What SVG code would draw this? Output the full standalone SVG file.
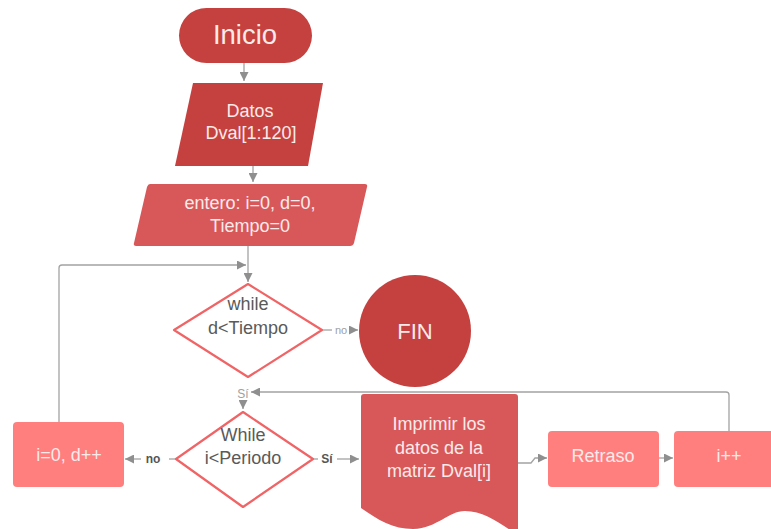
<svg xmlns="http://www.w3.org/2000/svg" width="771" height="529" viewBox="0 0 771 529">
  <style>
    .dark { fill: #c4413f; }
    .mid { fill: #d8585a; }
    .light { fill: #ff7f7f; }
    .dec { fill: #ffffff; stroke: #f06466; stroke-width: 2.2; stroke-linejoin: round; }
    .lbl { font-family: "Liberation Sans", Arial, sans-serif; fill: #fbeaea; text-anchor: middle; font-size: 18px; }
    .dtxt { font-family: "Liberation Sans", Arial, sans-serif; fill: #5a5a5a; text-anchor: middle; font-size: 18px; }
    .conn { fill: none; stroke: #a3a3a3; stroke-width: 1.3; }
    .clbl { font-family: "Liberation Sans", Arial, sans-serif; text-anchor: middle; }
  </style>
  <defs>
    <marker id="arr" viewBox="0 0 10 10" refX="10" refY="5" markerWidth="9" markerHeight="9" markerUnits="userSpaceOnUse" orient="auto">
      <path d="M0,0 L10,5 L0,10 z" fill="#8f8f8f"/>
    </marker>
  </defs>
  <rect width="771" height="529" fill="#ffffff"/>

  <!-- connectors -->
  <g id="connectors">
    <path class="conn" d="M244,63 V81" marker-end="url(#arr)"/>
    <path class="conn" d="M253,166 V182" marker-end="url(#arr)"/>
    <path class="conn" d="M248,246 V282" marker-end="url(#arr)"/>
    <path class="conn" d="M59,422 V268 Q59,265 62,265 H246" marker-end="url(#arr)"/>
    <path class="conn" d="M322,330 H332"/>
    <text class="clbl" x="341" y="334" font-size="11" fill="#a0a0a0">no</text>
    <path class="conn" d="M350,330 H358" marker-end="url(#arr)"/>
    <text class="clbl" x="243" y="398" font-size="12" fill="#a0a0a0">Sí</text>
    <path class="conn" d="M243,400 V409" marker-end="url(#arr)"/>
    <path class="conn" d="M729,431 V395 Q729,392 726,392 H251" marker-end="url(#arr)"/>
    <path class="conn" d="M176,459 H169"/>
    <text class="clbl" x="153" y="463" font-size="12" font-weight="bold" fill="#555555">no</text>
    <path class="conn" d="M141,459 H125" marker-end="url(#arr)"/>
    <path class="conn" d="M313,459 H318"/>
    <text class="clbl" x="327" y="463" font-size="12" font-weight="bold" fill="#555555">Sí</text>
    <path class="conn" d="M337,459 H359" marker-end="url(#arr)"/>
    <path class="conn" d="M518,463 H531 L535,458 H547" marker-end="url(#arr)"/>
    <path class="conn" d="M659,458 H673" marker-end="url(#arr)"/>
  </g>

  <g id="inicio">
    <rect class="dark" x="179" y="8" width="133" height="55" rx="27.5"/>
    <text class="lbl" x="245" y="44" font-size="27.5" style="font-size:27.5px">Inicio</text>
  </g>

  <g id="datos">
    <path class="dark" d="M193,83 H323 L308,166 H175 Z"/>
    <text class="lbl" x="250" y="117">Datos</text>
    <text class="lbl" x="251" y="139">Dval[1:120]</text>
  </g>

  <g id="entero">
    <path class="mid" d="M150,184 H365 Q368,184 367,187 L354,243 Q353,246 350,246 H136 Q133,246 134,243 L147,187 Q148,184 150,184 Z"/>
    <text class="lbl" x="250" y="209">entero: i=0, d=0,</text>
    <text class="lbl" x="250" y="232">Tiempo=0</text>
  </g>

  <g id="while-tiempo">
    <path class="dec" d="M248,284 L322,330 L248,377 L174,330 Z"/>
    <text class="dtxt" x="248" y="310">while</text>
    <text class="dtxt" x="248" y="334">d&lt;Tiempo</text>
  </g>

  <g id="fin">
    <circle class="dark" cx="415" cy="331" r="56"/>
    <text class="lbl" x="415" y="339" style="font-size:22px">FIN</text>
  </g>

  <g id="while-periodo">
    <path class="dec" d="M243,412 L313,459 L243,507 L176,459 Z"/>
    <text class="dtxt" x="243" y="441">While</text>
    <text class="dtxt" x="243" y="464">i&lt;Periodo</text>
  </g>

  <g id="reinicio">
    <rect class="light" x="13" y="422" width="111" height="65" rx="4"/>
    <text class="lbl" x="69" y="461">i=0, d++</text>
  </g>

  <g id="imprimir">
    <path class="mid" d="M364,394 H515 Q518,394 518,397 V535 C500,524 485,511 465,511 C448,511 438,528 413,529 C393,529 378,520 361,508 V397 Q361,394 364,394 Z"/>
    <text class="lbl" x="439" y="430">Imprimir los</text>
    <text class="lbl" x="439" y="454">datos de la</text>
    <text class="lbl" x="439" y="477">matriz Dval[i]</text>
  </g>

  <g id="retraso">
    <rect class="light" x="548" y="431" width="111" height="56" rx="4"/>
    <text class="lbl" x="603" y="462">Retraso</text>
  </g>

  <g id="incremento">
    <rect class="light" x="674" y="431" width="111" height="56" rx="4"/>
    <text class="lbl" x="729" y="462">i++</text>
  </g>
</svg>
